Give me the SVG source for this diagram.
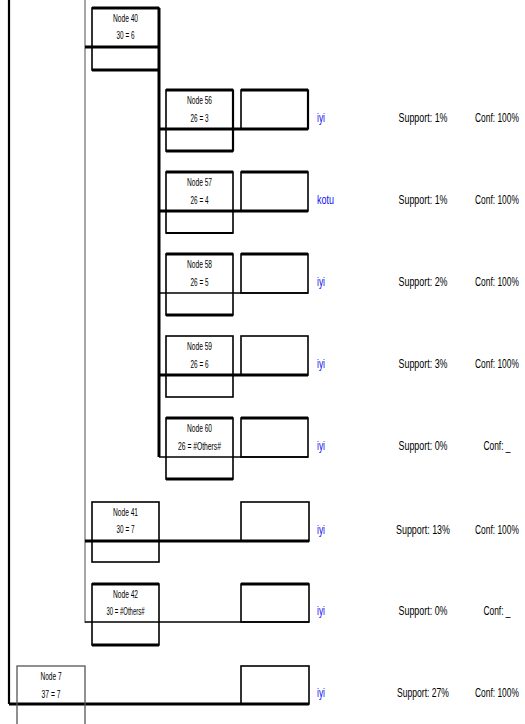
<svg xmlns="http://www.w3.org/2000/svg" width="525" height="724" viewBox="0 0 525 724">
<style>
rect{fill:none;stroke:#000;stroke-width:1.6}
rect.bg{fill:#fff;stroke:none}
line{stroke:#000}
.k{stroke-width:3}
.m{stroke-width:2.2}
.t{stroke-width:1.5}
.g{stroke:#888;stroke-width:1.5}
text{font-family:"Liberation Sans",Arial,sans-serif;fill:#000}
.n{font-size:10px;text-anchor:middle}
.c{font-size:13px;fill:#1010f0}
.s{font-size:13px;text-anchor:middle}
.f{font-size:12px}
</style>
<rect class="bg" width="525" height="724"/>
<g id="connectors">
<line class="m" x1="9" y1="0" x2="9" y2="704"/>
<line class="g" x1="85" y1="0" x2="85" y2="623"/>
<line class="k" x1="159" y1="70" x2="159" y2="457"/>
<line class="k" x1="85" y1="47" x2="159" y2="47"/>
<line class="k" x1="159" y1="129" x2="308" y2="129"/>
<line class="k" x1="159" y1="211" x2="308" y2="211"/>
<line class="t" x1="159" y1="293" x2="308" y2="293"/>
<line class="k" x1="159" y1="375" x2="308" y2="375"/>
<line class="t" x1="159" y1="457" x2="308" y2="457"/>
<line class="k" x1="85" y1="541" x2="309" y2="541"/>
<line class="t" x1="85" y1="622" x2="309" y2="622"/>
<line class="k" x1="9" y1="704" x2="309" y2="704"/>
</g>
<g id="node40">
<rect x="92" y="8" width="67" height="62"/>
<line class="k" x1="92" y1="8" x2="159" y2="8"/>
<line class="k" x1="92" y1="70" x2="159" y2="70"/>
<line class="k" x1="159" y1="8" x2="159" y2="70"/>
<text class="n" x="125.5" y="22" textLength="25" lengthAdjust="spacingAndGlyphs">Node 40</text>
<text class="n" x="125.5" y="39" textLength="18" lengthAdjust="spacingAndGlyphs">30 = 6</text>
</g>
<g id="node56">
<rect x="166" y="90" width="67" height="61"/>
<line class="k" x1="166" y1="90" x2="233" y2="90"/>
<line class="k" x1="166" y1="151" x2="233" y2="151"/>
<line class="m" x1="233" y1="90" x2="233" y2="151"/>
<rect x="241" y="90" width="67" height="39"/>
<line class="k" x1="241" y1="90" x2="308" y2="90"/>
<line class="m" x1="308" y1="90" x2="308" y2="129"/>
<text class="n" x="199.5" y="104" textLength="25" lengthAdjust="spacingAndGlyphs">Node 56</text>
<text class="n" x="199.5" y="122" textLength="18" lengthAdjust="spacingAndGlyphs">26 = 3</text>
<text class="c" x="317" y="122" textLength="8" lengthAdjust="spacingAndGlyphs">iyi</text>
<text class="s" x="423" y="122" textLength="49" lengthAdjust="spacingAndGlyphs">Support: 1%</text>
<text class="f" transform="translate(475,122) scale(0.7,1)">Conf: 100%</text>
</g>
<g id="node57">
<rect x="166" y="172" width="67" height="61"/>
<line class="k" x1="166" y1="172" x2="233" y2="172"/>
<line class="m" x1="166" y1="233" x2="233" y2="233"/>
<rect x="241" y="172" width="67" height="39"/>
<line class="k" x1="241" y1="172" x2="308" y2="172"/>
<text class="n" x="199.5" y="186" textLength="25" lengthAdjust="spacingAndGlyphs">Node 57</text>
<text class="n" x="199.5" y="204" textLength="18" lengthAdjust="spacingAndGlyphs">26 = 4</text>
<text class="c" x="317" y="204" textLength="17" lengthAdjust="spacingAndGlyphs">kotu</text>
<text class="s" x="423" y="204" textLength="49" lengthAdjust="spacingAndGlyphs">Support: 1%</text>
<text class="f" transform="translate(475,204) scale(0.7,1)">Conf: 100%</text>
</g>
<g id="node58">
<rect x="166" y="254" width="67" height="61"/>
<line class="k" x1="166" y1="254" x2="233" y2="254"/>
<line class="k" x1="166" y1="315" x2="233" y2="315"/>
<rect x="241" y="254" width="67" height="39"/>
<line class="k" x1="241" y1="254" x2="308" y2="254"/>
<text class="n" x="199.5" y="268" textLength="25" lengthAdjust="spacingAndGlyphs">Node 58</text>
<text class="n" x="199.5" y="286" textLength="18" lengthAdjust="spacingAndGlyphs">26 = 5</text>
<text class="c" x="317" y="286" textLength="8" lengthAdjust="spacingAndGlyphs">iyi</text>
<text class="s" x="423" y="286" textLength="49" lengthAdjust="spacingAndGlyphs">Support: 2%</text>
<text class="f" transform="translate(475,286) scale(0.7,1)">Conf: 100%</text>
</g>
<g id="node59">
<rect x="166" y="336" width="67" height="61"/>
<rect x="241" y="336" width="67" height="39"/>
<text class="n" x="199.5" y="350" textLength="25" lengthAdjust="spacingAndGlyphs">Node 59</text>
<text class="n" x="199.5" y="368" textLength="18" lengthAdjust="spacingAndGlyphs">26 = 6</text>
<text class="c" x="317" y="368" textLength="8" lengthAdjust="spacingAndGlyphs">iyi</text>
<text class="s" x="423" y="368" textLength="49" lengthAdjust="spacingAndGlyphs">Support: 3%</text>
<text class="f" transform="translate(475,368) scale(0.7,1)">Conf: 100%</text>
</g>
<g id="node60">
<rect x="166" y="418" width="67" height="61"/>
<line class="k" x1="166" y1="418" x2="233" y2="418"/>
<line class="k" x1="166" y1="479" x2="233" y2="479"/>
<rect x="241" y="418" width="67" height="39"/>
<line class="k" x1="241" y1="418" x2="308" y2="418"/>
<text class="n" x="199.5" y="432" textLength="25" lengthAdjust="spacingAndGlyphs">Node 60</text>
<text class="n" x="199.5" y="450" textLength="43" lengthAdjust="spacingAndGlyphs">26 = #Others#</text>
<text class="c" x="317" y="450" textLength="8" lengthAdjust="spacingAndGlyphs">iyi</text>
<text class="s" x="423" y="450" textLength="49" lengthAdjust="spacingAndGlyphs">Support: 0%</text>
<text class="s" x="497" y="450" textLength="27" lengthAdjust="spacingAndGlyphs">Conf: _</text>
</g>
<g id="node41">
<rect x="92" y="502" width="67" height="60"/>
<rect x="241" y="502" width="68" height="39"/>
<text class="n" x="125.5" y="516" textLength="25" lengthAdjust="spacingAndGlyphs">Node 41</text>
<text class="n" x="125.5" y="533" textLength="18" lengthAdjust="spacingAndGlyphs">30 = 7</text>
<text class="c" x="317" y="534" textLength="8" lengthAdjust="spacingAndGlyphs">iyi</text>
<text class="s" x="423" y="534" textLength="54" lengthAdjust="spacingAndGlyphs">Support: 13%</text>
<text class="f" transform="translate(475,534) scale(0.7,1)">Conf: 100%</text>
</g>
<g id="node42">
<rect x="92" y="584" width="67" height="61"/>
<line class="k" x1="92" y1="584" x2="159" y2="584"/>
<line class="k" x1="92" y1="645" x2="159" y2="645"/>
<rect x="241" y="584" width="68" height="38"/>
<line class="k" x1="241" y1="584" x2="309" y2="584"/>
<text class="n" x="125.5" y="598" textLength="25" lengthAdjust="spacingAndGlyphs">Node 42</text>
<text class="n" x="125.5" y="615" textLength="38" lengthAdjust="spacingAndGlyphs">30 = #Others#</text>
<text class="c" x="317" y="615" textLength="8" lengthAdjust="spacingAndGlyphs">iyi</text>
<text class="s" x="423" y="615" textLength="49" lengthAdjust="spacingAndGlyphs">Support: 0%</text>
<text class="s" x="497" y="615" textLength="27" lengthAdjust="spacingAndGlyphs">Conf: _</text>
</g>
<g id="node7">
<rect x="17" y="666" width="68" height="62" style="stroke:#555;stroke-width:1.3"/>
<rect x="241" y="666" width="68" height="38"/>
<text class="n" x="51" y="680" textLength="21" lengthAdjust="spacingAndGlyphs">Node 7</text>
<text class="n" x="51" y="698" textLength="19" lengthAdjust="spacingAndGlyphs">37 = 7</text>
<text class="c" x="317" y="697" textLength="8" lengthAdjust="spacingAndGlyphs">iyi</text>
<text class="s" x="423" y="697" textLength="52" lengthAdjust="spacingAndGlyphs">Support: 27%</text>
<text class="f" transform="translate(475,697) scale(0.7,1)">Conf: 100%</text>
</g>
</svg>
